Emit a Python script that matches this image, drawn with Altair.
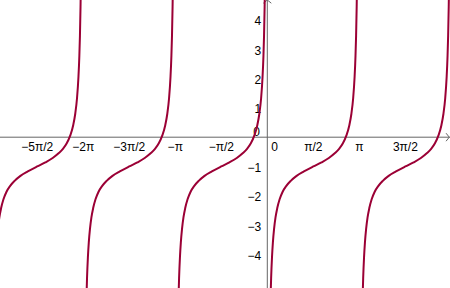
import math
import altair as alt
import pandas as pd

PI = math.pi

# Branch asymptotes (left end of each branch)
asymptotes = [-3 * PI, -2 * PI, -PI, 0.0, PI]

# One branch of the curve: distance from its left asymptote and value (read/estimated)
branch_dx = [0.05, 0.07, 0.09, 0.11, 0.13, 0.16, 0.19, 0.23, 0.28, 0.34, 0.42, 0.52,
             0.65, 0.80, 1.00, 1.25, 1.5708, 1.85, 2.10, 2.30, 2.45, 2.58, 2.70, 2.80,
             2.87, 2.93, 2.98, 3.01, 3.03, 3.05, 3.07, 3.09]
branch_y = [-10.99, -8.13, -6.54, -5.53, -4.82, -4.10, -3.60, -3.14, -2.74, -2.42, -2.12, -1.87,
            -1.66, -1.49, -1.32, -1.17, -1.00, -0.86, -0.71, -0.55, -0.40, -0.21, 0.06, 0.41,
            0.80, 1.33, 2.07, 2.78, 3.46, 4.45, 5.97, 8.68]

x_tick_values = [-5 * PI / 2, -2 * PI, -3 * PI / 2, -PI, -PI / 2, PI / 2, PI, 3 * PI / 2]
x_tick_labels = ["\u22125\u03c0/2", "\u22122\u03c0", "\u22123\u03c0/2", "\u2212\u03c0", "\u2212\u03c0/2",
                 "\u03c0/2", "\u03c0", "3\u03c0/2"]
y_tick_values = [-4, -3, -2, -1, 1, 2, 3, 4]
y_tick_labels = ["\u22124", "\u22123", "\u22122", "\u22121", "1", "2", "3", "4"]

X_DOMAIN = [-9.123, 6.235]
Y_DOMAIN = [-5.149, 4.684]

curve_rows = []
for i, a in enumerate(asymptotes):
    for dx, yv in zip(branch_dx, branch_y):
        curve_rows.append({"branch": i, "x": a + dx, "y": yv})
curve_df = pd.DataFrame(curve_rows)

xs = alt.Scale(domain=X_DOMAIN, nice=False, zero=False)
ys = alt.Scale(domain=Y_DOMAIN, nice=False, zero=False)

grid_x_vals = x_tick_values + [0.0]
grid_y_vals = [-5] + y_tick_values + [0]

grid = alt.Chart(curve_df).mark_line(opacity=0, clip=True).encode(
    x=alt.X("x:Q", scale=xs, axis=alt.Axis(values=grid_x_vals, grid=True, labels=False, ticks=False,
                                           domain=False, title=None, gridColor="#d5d5d5", gridWidth=1)),
    y=alt.Y("y:Q", scale=ys, axis=alt.Axis(values=grid_y_vals, grid=True, labels=False, ticks=False,
                                           domain=False, title=None, gridColor="#d5d5d5", gridWidth=1)),
    detail="branch:N",
)

curve = alt.Chart(curve_df).mark_line(
    color="#9B0035", strokeWidth=2, clip=True, interpolate="monotone"
).encode(
    x=alt.X("x:Q", scale=xs, axis=None),
    y=alt.Y("y:Q", scale=ys, axis=None),
    detail="branch:N",
)

axis_color = "#666666"
x_axis_line = alt.Chart(pd.DataFrame({"v": [0]})).mark_rule(color=axis_color, strokeWidth=1).encode(
    y=alt.Y("v:Q", scale=ys, axis=None)
)
y_axis_line = alt.Chart(pd.DataFrame({"v": [0]})).mark_rule(color=axis_color, strokeWidth=1).encode(
    x=alt.X("v:Q", scale=xs, axis=None)
)

x_arrow = alt.Chart(pd.DataFrame({"x": [6.21], "y": [0]})).mark_point(
    shape="M -0.8 -1 L 0 0 L -0.8 1", size=64, filled=False, color=axis_color, strokeWidth=1, opacity=1
).encode(x=alt.X("x:Q", scale=xs, axis=None), y=alt.Y("y:Q", scale=ys, axis=None))

y_arrow = alt.Chart(pd.DataFrame({"x": [0], "y": [4.684]})).mark_point(
    shape="M -1 0.8 L 0 0 L 1 0.8", size=64, filled=False, color=axis_color, strokeWidth=1, opacity=1
).encode(x=alt.X("x:Q", scale=xs, axis=None), y=alt.Y("y:Q", scale=ys, axis=None))

xlab_df = pd.DataFrame({"x": x_tick_values + [0.246], "y": [-0.335] * (len(x_tick_values) + 1),
                        "t": x_tick_labels + ["0"]})
x_labels = alt.Chart(xlab_df).mark_text(
    font="Liberation Sans", fontSize=12, color="#000000", align="center", baseline="middle"
).encode(x=alt.X("x:Q", scale=xs, axis=None), y=alt.Y("y:Q", scale=ys, axis=None), text="t:N")

ylab_df = pd.DataFrame({"x": [-0.21] * len(y_tick_values) + [-0.25],
                        "y": [v - 0.05 for v in y_tick_values] + [0.178],
                        "t": y_tick_labels + ["0"]})
y_labels = alt.Chart(ylab_df).mark_text(
    font="Liberation Sans", fontSize=12, color="#000000", align="right", baseline="middle"
).encode(x=alt.X("x:Q", scale=xs, axis=None), y=alt.Y("y:Q", scale=ys, axis=None), text="t:N")

chart = alt.layer(
    grid, x_axis_line, y_axis_line, x_arrow, y_arrow, x_labels, y_labels, curve,
).properties(
    width=450, height=288, padding=0, autosize=alt.AutoSizeParams(type="none"),
    background="#ffffff",
).configure_view(stroke=None)

chart.save("out.html", embed_options={"renderer": "svg", "actions": False})
